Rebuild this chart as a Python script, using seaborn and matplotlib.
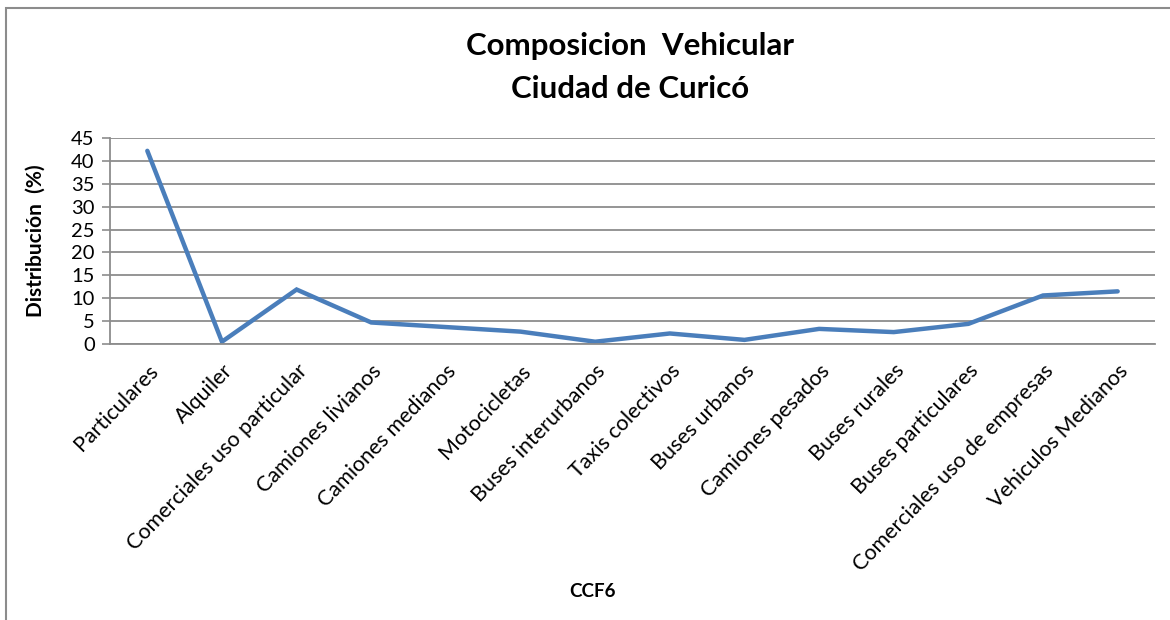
import matplotlib
matplotlib.use("Agg")
import matplotlib.pyplot as plt
import seaborn as sns
import pandas as pd
from matplotlib.patches import Rectangle

categories = ["Particulares", "Alquiler", "Comerciales uso particular",
              "Camiones livianos", "Camiones medianos", "Motocicletas",
              "Buses interurbanos", "Taxis colectivos", "Buses urbanos",
              "Camiones pesados", "Buses rurales", "Buses particulares",
              "Comerciales uso de empresas", "Vehiculos Medianos"]
values = [42.2, 0.5, 11.9, 4.7, 3.7, 2.7, 0.5, 2.3, 0.9, 3.3, 2.6, 4.4, 10.6, 11.5]
yticks = [0, 5, 10, 15, 20, 25, 30, 35, 40, 45]

sns.set_theme(style="white")
plt.rcParams['font.family'] = ['Lato', 'DejaVu Sans']
plt.rcParams['text.color'] = 'black'

df = pd.DataFrame({"cat": categories, "val": values})
df["pos"] = range(len(categories))

fig = plt.figure(figsize=(11.7, 6.2), dpi=100)
ax = fig.add_axes([110/1170, 1-344/620, (1155-110)/1170, (344-138)/620])

sns.lineplot(data=df, x="pos", y="val", ax=ax, color="#4a7ebb", linewidth=3.2,
             solid_capstyle="round", solid_joinstyle="miter")

ax.set_xlim(-0.5, len(categories) - 0.5)
ax.set_ylim(0, 45)
ax.set_yticks(yticks)
ax.set_yticklabels([str(v) for v in yticks], fontsize=14.5)
ax.set_xticks(range(len(categories)))
ax.set_xticklabels(categories, rotation=46, ha="right", rotation_mode="anchor", fontsize=15.5)
ax.tick_params(axis="x", length=0, pad=12)
ax.tick_params(axis="y", length=6, width=1.2, color="#8c8c8c", pad=5, left=True)
for t in ax.get_yticklabels():
    t.set_color("black")
for t in ax.get_xticklabels():
    t.set_color("black")

ax.yaxis.grid(True, color="#8c8c8c", linewidth=1.3)
ax.set_axisbelow(True)
for s in ["top", "right"]:
    ax.spines[s].set_visible(False)
ax.spines["left"].set_color("#8c8c8c")
ax.spines["left"].set_linewidth(1.3)
ax.spines["bottom"].set_color("#8c8c8c")
ax.spines["bottom"].set_linewidth(1.3)

ax.set_xlabel("CCF6", fontsize=13.5, fontweight="bold", color="black")
ax.xaxis.set_label_coords((592-110)/(1155-110), 1-(583-138)/(344-138))
ax.set_ylabel("Distribución  (%)", fontsize=15, fontweight="bold", color="black")
ax.yaxis.set_label_coords(-(110-46)/(1155-110), 0.5)

fig.text(630/1170, 1-46/620, "Composicion  Vehicular", ha="center", va="center",
         fontsize=22.5, fontweight="bold", color="black")
fig.text(630/1170, 1-89/620, "Ciudad de Curicó", ha="center", va="center",
         fontsize=22.5, fontweight="bold", color="black")

fig.patches.append(Rectangle((6/1170, -0.1), 1.2, 1-8/620+0.1, transform=fig.transFigure,
                             fill=False, edgecolor="#8c8c8c", linewidth=1.5))

fig.savefig("out.png", dpi=100)
